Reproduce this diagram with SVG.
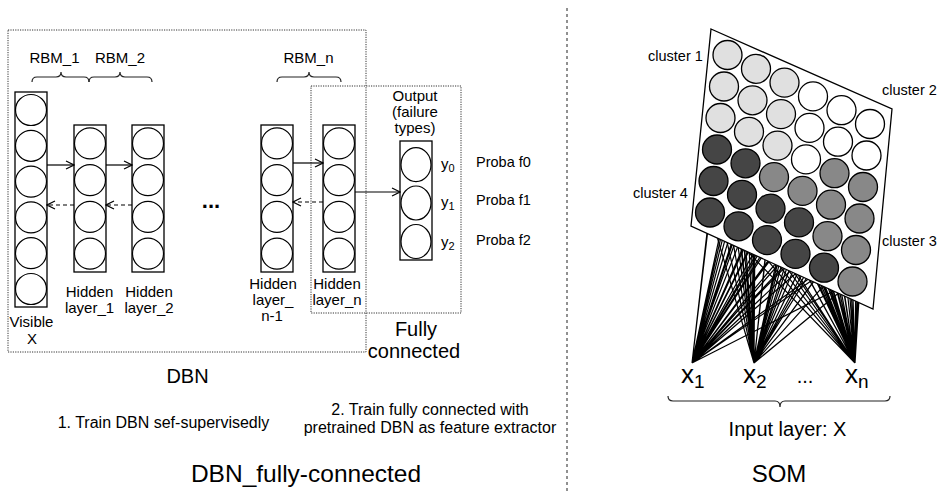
<svg xmlns="http://www.w3.org/2000/svg" width="939" height="493" viewBox="0 0 939 493">
<defs>
<style>
.t{font-family:"Liberation Sans",Arial,Helvetica,sans-serif;fill:#000;}
.m{font-size:15px;}
.box{fill:none;stroke:#333;stroke-width:1;stroke-dasharray:1.2 1.2;}
.col{fill:#fff;stroke:#000;stroke-width:1.3;}
.neu{fill:#fff;stroke:#000;stroke-width:1.2;}
.brace{fill:none;stroke:#222;stroke-width:1.2;}
.arr{fill:none;stroke:#000;stroke-width:1.2;marker-end:url(#ah);}
.dash{stroke-dasharray:4 3;}
.wire{fill:none;stroke:#000;stroke-width:1.2;}
.L{fill:#e0e0e0;stroke:#000;stroke-width:1.3;}
.W{fill:#fff;stroke:#000;stroke-width:1.3;}
.M{fill:#888;stroke:#000;stroke-width:1.3;}
.D{fill:#454545;stroke:#000;stroke-width:1.3;}
</style>
<marker id="ah" markerWidth="10" markerHeight="10" refX="9" refY="5" orient="auto" markerUnits="userSpaceOnUse">
<path d="M1,1 L9,5 L1,9" fill="none" stroke="#000" stroke-width="1.2"/>
</marker>
</defs>
<rect width="939" height="493" fill="#fff"/>

<!-- divider -->
<line x1="567" y1="8" x2="567" y2="493" stroke="#222" stroke-width="1" stroke-dasharray="3 3"/>

<!-- DBN boxes -->
<g id="dbn-box">
<rect class="box" x="8" y="30" width="358" height="322"/>
<text class="t" x="187.5" y="383" font-size="20" text-anchor="middle">DBN</text>
</g>
<g id="fc-box">
<rect class="box" x="311" y="86" width="150" height="227"/>
<text class="t" x="416" y="336" font-size="20" text-anchor="middle">Fully</text>
<text class="t" x="414" y="358" font-size="20" text-anchor="middle">connected</text>
</g>

<!-- RBM braces -->
<g id="rbm1">
<text class="t m" x="54.5" y="62.5" text-anchor="middle">RBM_1</text>
<path class="brace" d="M32,82 Q32,77 37,77 L56,77 Q61,77 61,72 Q61,77 66,77 L84,77 Q89,77 89,82"/>
</g>
<g id="rbm2">
<text class="t m" x="120" y="62.5" text-anchor="middle">RBM_2</text>
<path class="brace" d="M89,82 Q89,77 94,77 L115,77 Q120,77 120,72 Q120,77 125,77 L147,77 Q152,77 152,82"/>
</g>
<g id="rbmn">
<text class="t m" x="308.5" y="62.5" text-anchor="middle">RBM_n</text>
<path class="brace" d="M277,82 Q277,77 282,77 L304,77 Q309,77 309,72 Q309,77 314,77 L336,77 Q341,77 341,82"/>
</g>

<!-- Visible layer -->
<g id="visible">
<rect class="col" x="15" y="92" width="32" height="215"/>
<circle class="neu" cx="31" cy="110" r="15.5"/>
<circle class="neu" cx="31" cy="145.8" r="15.5"/>
<circle class="neu" cx="31" cy="181.6" r="15.5"/>
<circle class="neu" cx="31" cy="217.4" r="15.5"/>
<circle class="neu" cx="31" cy="253.2" r="15.5"/>
<circle class="neu" cx="31" cy="289" r="15.5"/>
<text class="t m" x="31.5" y="327" text-anchor="middle">Visible</text>
<text class="t m" x="32" y="344" text-anchor="middle">X</text>
</g>

<!-- Hidden layer 1 -->
<g id="hidden1">
<rect class="col" x="74" y="125" width="32" height="147"/>
<circle class="neu" cx="90" cy="143.4" r="15.5"/>
<circle class="neu" cx="90" cy="180.1" r="15.5"/>
<circle class="neu" cx="90" cy="216.9" r="15.5"/>
<circle class="neu" cx="90" cy="253.6" r="15.5"/>
<text class="t m" x="89.5" y="296.5" text-anchor="middle">Hidden</text>
<text class="t m" x="89.5" y="312.5" text-anchor="middle">layer_1</text>
</g>

<!-- Hidden layer 2 -->
<g id="hidden2">
<rect class="col" x="132" y="125" width="32" height="147"/>
<circle class="neu" cx="148" cy="143.4" r="15.5"/>
<circle class="neu" cx="148" cy="180.1" r="15.5"/>
<circle class="neu" cx="148" cy="216.9" r="15.5"/>
<circle class="neu" cx="148" cy="253.6" r="15.5"/>
<text class="t m" x="149" y="296.5" text-anchor="middle">Hidden</text>
<text class="t m" x="149" y="312.5" text-anchor="middle">layer_2</text>
</g>

<text class="t" x="211" y="208" font-size="22" font-weight="bold" text-anchor="middle">...</text>

<!-- Hidden layer n-1 -->
<g id="hiddenn1">
<rect class="col" x="261" y="125" width="32" height="147"/>
<circle class="neu" cx="277" cy="143.4" r="15.5"/>
<circle class="neu" cx="277" cy="180.1" r="15.5"/>
<circle class="neu" cx="277" cy="216.9" r="15.5"/>
<circle class="neu" cx="277" cy="253.6" r="15.5"/>
<text class="t m" x="273" y="288.5" text-anchor="middle">Hidden</text>
<text class="t m" x="273" y="304.5" text-anchor="middle">layer_</text>
<text class="t m" x="272" y="320.5" text-anchor="middle">n-1</text>
</g>

<!-- Hidden layer n -->
<g id="hiddenn">
<rect class="col" x="323" y="125" width="32" height="147"/>
<circle class="neu" cx="339" cy="143.4" r="15.5"/>
<circle class="neu" cx="339" cy="180.1" r="15.5"/>
<circle class="neu" cx="339" cy="216.9" r="15.5"/>
<circle class="neu" cx="339" cy="253.6" r="15.5"/>
<text class="t m" x="337" y="288.5" text-anchor="middle">Hidden</text>
<text class="t m" x="337" y="304.5" text-anchor="middle">layer_n</text>
</g>

<!-- Output -->
<g id="output">
<text class="t m" x="415" y="101" text-anchor="middle">Output</text>
<text class="t m" x="415" y="117" text-anchor="middle">(failure</text>
<text class="t m" x="415" y="133" text-anchor="middle">types)</text>
<rect class="col" x="400" y="141" width="32" height="119"/>
<ellipse class="neu" cx="416" cy="164.7" rx="15" ry="17"/>
<ellipse class="neu" cx="416" cy="203" rx="15" ry="17"/>
<ellipse class="neu" cx="416" cy="241.5" rx="15" ry="17"/>
<text class="t m" x="441" y="169">y<tspan font-size="11" dy="3">0</tspan></text>
<text class="t m" x="441" y="207">y<tspan font-size="11" dy="3">1</tspan></text>
<text class="t m" x="441" y="246.5">y<tspan font-size="11" dy="3">2</tspan></text>
<text class="t" x="476" y="166.5" font-size="14.5">Proba f0</text>
<text class="t" x="476" y="205" font-size="14.5">Proba f1</text>
<text class="t" x="476" y="245" font-size="14.5">Proba f2</text>
</g>

<!-- connectors -->
<g id="connectors">
<path class="arr" d="M47,165 L74,165"/>
<path class="arr dash" d="M74,205 L47,205"/>
<path class="arr" d="M106,165 L132,165"/>
<path class="arr dash" d="M132,205 L106,205"/>
<path class="arr" d="M293,163 L323,163"/>
<path class="arr dash" d="M323,202 L293,202"/>
<path class="arr" d="M355,192 L400,192"/>
</g>

<!-- Captions -->
<text class="t" x="163.5" y="428" font-size="16" text-anchor="middle">1. Train DBN sef-supervisedly</text>
<text class="t" x="430" y="415" font-size="16" text-anchor="middle">2. Train fully connected with</text>
<text class="t" x="430" y="433" font-size="16" text-anchor="middle">pretrained DBN as feature extractor</text>
<text class="t" x="306" y="482" font-size="24.5" text-anchor="middle">DBN_fully-connected</text>

<!-- SOM -->
<g id="som-wires">
<path class="wire" d="M692 363L727.5 55M692 363L756 68.8M692 363L784.5 82.6M692 363L813 96.4M692 363L841.5 110.2M692 363L870 124M692 363L724 86.5M692 363L752.5 100.3M692 363L781 114.1M692 363L809.5 127.9M692 363L838 141.7M692 363L866.5 155.5M692 363L720.5 118M692 363L749 131.8M692 363L777.5 145.6M692 363L806 159.4M692 363L834.5 173.2M692 363L863 187M692 363L717 149.5M692 363L745.5 163.3M692 363L774 177.1M692 363L802.5 190.9M692 363L831 204.7M692 363L859.5 218.5M692 363L713.5 181M692 363L742 194.8M692 363L770.5 208.6M692 363L799 222.4M692 363L827.5 236.2M692 363L856 250M692 363L710 212.5M692 363L738.5 226.3M692 363L767 240.1M692 363L795.5 253.9M692 363L824 267.7M692 363L852.5 281.5"/>
<path class="wire" d="M754 363L727.5 55M754 363L756 68.8M754 363L784.5 82.6M754 363L813 96.4M754 363L841.5 110.2M754 363L870 124M754 363L724 86.5M754 363L752.5 100.3M754 363L781 114.1M754 363L809.5 127.9M754 363L838 141.7M754 363L866.5 155.5M754 363L720.5 118M754 363L749 131.8M754 363L777.5 145.6M754 363L806 159.4M754 363L834.5 173.2M754 363L863 187M754 363L717 149.5M754 363L745.5 163.3M754 363L774 177.1M754 363L802.5 190.9M754 363L831 204.7M754 363L859.5 218.5M754 363L713.5 181M754 363L742 194.8M754 363L770.5 208.6M754 363L799 222.4M754 363L827.5 236.2M754 363L856 250M754 363L710 212.5M754 363L738.5 226.3M754 363L767 240.1M754 363L795.5 253.9M754 363L824 267.7M754 363L852.5 281.5"/>
<path class="wire" d="M855 363L727.5 55M855 363L756 68.8M855 363L784.5 82.6M855 363L813 96.4M855 363L841.5 110.2M855 363L870 124M855 363L724 86.5M855 363L752.5 100.3M855 363L781 114.1M855 363L809.5 127.9M855 363L838 141.7M855 363L866.5 155.5M855 363L720.5 118M855 363L749 131.8M855 363L777.5 145.6M855 363L806 159.4M855 363L834.5 173.2M855 363L863 187M855 363L717 149.5M855 363L745.5 163.3M855 363L774 177.1M855 363L802.5 190.9M855 363L831 204.7M855 363L859.5 218.5M855 363L713.5 181M855 363L742 194.8M855 363L770.5 208.6M855 363L799 222.4M855 363L827.5 236.2M855 363L856 250M855 363L710 212.5M855 363L738.5 226.3M855 363L767 240.1M855 363L795.5 253.9M855 363L824 267.7M855 363L852.5 281.5"/>
</g>

<g id="som-map">
<polygon points="711,29 892,109 873,309 691,226" fill="#fff" stroke="#000" stroke-width="1.3"/>
<circle class="L" cx="727.5" cy="55" r="14.5"/>
<circle class="L" cx="756" cy="68.8" r="14.5"/>
<circle class="L" cx="784.5" cy="82.6" r="14.5"/>
<circle class="W" cx="813" cy="96.4" r="14.5"/>
<circle class="W" cx="841.5" cy="110.2" r="14.5"/>
<circle class="W" cx="870" cy="124" r="14.5"/>
<circle class="L" cx="724" cy="86.5" r="14.5"/>
<circle class="L" cx="752.5" cy="100.3" r="14.5"/>
<circle class="L" cx="781" cy="114.1" r="14.5"/>
<circle class="W" cx="809.5" cy="127.9" r="14.5"/>
<circle class="W" cx="838" cy="141.7" r="14.5"/>
<circle class="W" cx="866.5" cy="155.5" r="14.5"/>
<circle class="L" cx="720.5" cy="118" r="14.5"/>
<circle class="L" cx="749" cy="131.8" r="14.5"/>
<circle class="L" cx="777.5" cy="145.6" r="14.5"/>
<circle class="W" cx="806" cy="159.4" r="14.5"/>
<circle class="M" cx="834.5" cy="173.2" r="14.5"/>
<circle class="M" cx="863" cy="187" r="14.5"/>
<circle class="D" cx="717" cy="149.5" r="14.5"/>
<circle class="D" cx="745.5" cy="163.3" r="14.5"/>
<circle class="M" cx="774" cy="177.1" r="14.5"/>
<circle class="M" cx="802.5" cy="190.9" r="14.5"/>
<circle class="M" cx="831" cy="204.7" r="14.5"/>
<circle class="M" cx="859.5" cy="218.5" r="14.5"/>
<circle class="D" cx="713.5" cy="181" r="14.5"/>
<circle class="D" cx="742" cy="194.8" r="14.5"/>
<circle class="D" cx="770.5" cy="208.6" r="14.5"/>
<circle class="D" cx="799" cy="222.4" r="14.5"/>
<circle class="M" cx="827.5" cy="236.2" r="14.5"/>
<circle class="M" cx="856" cy="250" r="14.5"/>
<circle class="D" cx="710" cy="212.5" r="14.5"/>
<circle class="D" cx="738.5" cy="226.3" r="14.5"/>
<circle class="D" cx="767" cy="240.1" r="14.5"/>
<circle class="D" cx="795.5" cy="253.9" r="14.5"/>
<circle class="D" cx="824" cy="267.7" r="14.5"/>
<circle class="M" cx="852.5" cy="281.5" r="14.5"/>
<text class="t" x="648" y="60.5" font-size="14.5" fill="#222">cluster 1</text>
<text class="t" x="882" y="95" font-size="14.5" fill="#222">cluster 2</text>
<text class="t" x="882" y="246" font-size="14.5" fill="#222">cluster 3</text>
<text class="t" x="633" y="198" font-size="14.5" fill="#222">cluster 4</text>
</g>

<g id="som-inputs">
<text class="t" x="681" y="383" font-size="26">x<tspan font-size="19" dy="5">1</tspan></text>
<text class="t" x="743" y="383" font-size="26">x<tspan font-size="19" dy="5">2</tspan></text>
<text class="t" x="805" y="383" font-size="20" text-anchor="middle">...</text>
<text class="t" x="845" y="383" font-size="26">x<tspan font-size="19" dy="5">n</tspan></text>
<path class="brace" d="M668,396 Q668,401 673,401 L775,401 Q780,401 780,407 Q780,401 785,401 L885,401 Q890,401 890,396"/>
<text class="t" x="787.5" y="436" font-size="20" text-anchor="middle">Input layer: X</text>
<text class="t" x="779" y="482" font-size="24" text-anchor="middle">SOM</text>
</g>
</svg>
